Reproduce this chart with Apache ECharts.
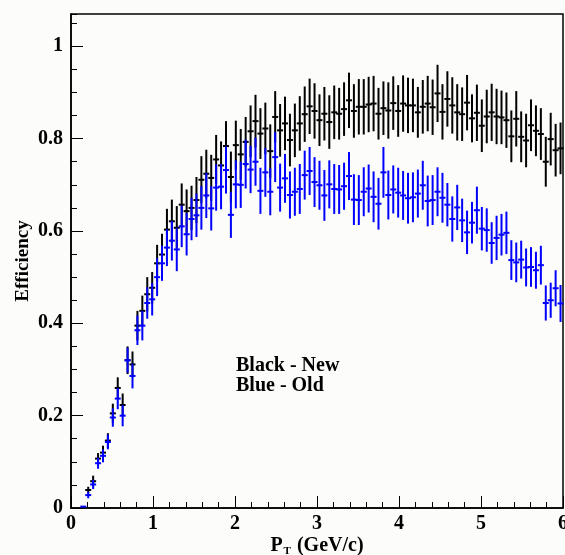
<!DOCTYPE html>
<html>
<head>
<meta charset="utf-8">
<script src="https://cdn.jsdelivr.net/npm/echarts@6/dist/echarts.min.js"></script>
<style>
html,body{margin:0;padding:0;background:#fcfcfa;}
#chart{width:565px;height:555px;}
</style>
</head>
<body>
<div id="chart"></div>
<script>
// Bin centres (GeV/c)
const pT = [0.03,0.09,0.15,0.21,0.27,0.33,0.39,0.45,0.51,0.57,0.63,0.69,0.75,0.81,0.87,0.93,0.99,1.05,1.11,1.17,
1.23,1.29,1.35,1.41,1.47,1.53,1.59,1.65,1.71,1.77,1.83,1.89,1.95,2.01,2.07,2.13,2.19,2.25,2.31,2.37,
2.43,2.49,2.55,2.61,2.67,2.73,2.79,2.85,2.91,2.97,3.03,3.09,3.15,3.21,3.27,3.33,3.39,3.45,3.51,3.57,
3.63,3.69,3.75,3.81,3.87,3.93,3.99,4.05,4.11,4.17,4.23,4.29,4.35,4.41,4.47,4.53,4.59,4.65,4.71,4.77,
4.83,4.89,4.95,5.01,5.07,5.13,5.19,5.25,5.31,5.37,5.43,5.49,5.55,5.61,5.67,5.73,5.79,5.85,5.91,5.97];

// Black - New
const newEff = [null,null,null,
0.039,0.058,0.107,0.120,0.146,0.205,0.260,0.223,0.320,0.311,0.395,0.427,0.463,0.477,0.530,0.549,0.603,0.621,0.607,0.657,0.643,0.650,
0.667,0.711,0.724,0.715,0.755,0.742,0.784,0.717,0.786,0.766,0.793,0.816,0.838,0.811,0.822,0.773,0.847,0.818,0.833,0.797,0.818,0.833,0.853,
0.870,0.860,0.840,0.854,0.836,0.857,0.854,0.864,0.883,0.860,0.869,0.869,0.874,0.876,0.854,0.866,0.861,0.877,0.860,0.876,0.872,0.872,0.857,0.869,0.876,0.868,0.898,
0.858,0.886,0.872,0.857,0.853,0.878,0.844,0.856,0.828,0.848,0.857,0.848,0.846,0.840,0.805,0.843,0.804,0.796,0.829,0.817,0.810,0.750,0.799,0.775,0.779];
const newErr = [0,0,0,
0.007,0.012,0.012,0.015,0.016,0.021,0.023,0.025,0.030,0.028,0.032,0.033,0.037,0.034,0.040,0.045,0.045,0.047,0.047,0.046,0.047,0.048,
0.050,0.051,0.052,0.050,0.053,0.052,0.054,0.055,0.053,0.055,0.054,0.056,0.057,0.055,0.056,0.058,0.056,0.057,0.058,0.057,0.058,0.059,0.060,
0.060,0.060,0.056,0.058,0.058,0.058,0.056,0.058,0.060,0.058,0.060,0.060,0.060,0.060,0.056,0.058,0.061,0.058,0.056,0.061,0.060,0.058,0.055,0.058,0.060,0.060,0.062,
0.060,0.060,0.061,0.061,0.058,0.060,0.052,0.061,0.057,0.058,0.062,0.060,0.058,0.060,0.056,0.060,0.055,0.058,0.056,0.055,0.056,0.054,0.057,0.057,0.056];

// Blue - Old
const oldEff = [null,null,0.003,
0.028,0.051,0.097,0.113,0.143,0.196,0.237,0.200,0.320,0.286,0.385,0.395,0.444,0.452,0.500,0.530,0.564,0.579,0.560,0.610,0.593,0.626,
0.634,0.650,0.677,0.649,0.694,0.696,0.732,0.635,0.701,0.700,0.745,0.733,0.750,0.687,0.727,0.685,0.760,0.694,0.714,0.678,0.685,0.691,0.721,
0.730,0.706,0.699,0.677,0.701,0.691,0.690,0.697,0.719,0.668,0.667,0.685,0.692,0.674,0.659,0.727,0.678,0.690,0.683,0.677,0.671,0.673,0.681,0.699,0.665,0.667,
0.685,0.672,0.657,0.626,0.651,0.623,0.597,0.618,0.645,0.605,0.602,0.574,0.585,0.592,0.596,0.537,0.532,0.538,0.521,0.522,0.515,0.526,0.444,0.450,0.476,0.443];
const oldErr = [0,0,0,
0.007,0.010,0.012,0.014,0.016,0.020,0.023,0.023,0.027,0.027,0.032,0.032,0.034,0.035,0.041,0.038,0.040,0.043,0.047,0.045,0.046,0.046,
0.047,0.047,0.049,0.048,0.050,0.049,0.051,0.050,0.052,0.050,0.053,0.051,0.052,0.050,0.053,0.051,0.054,0.052,0.053,0.051,0.052,0.054,0.053,
0.052,0.054,0.053,0.055,0.052,0.054,0.053,0.051,0.052,0.055,0.054,0.053,0.052,0.055,0.056,0.055,0.053,0.052,0.054,0.053,0.055,0.054,0.052,0.053,0.055,0.054,
0.053,0.054,0.047,0.049,0.049,0.047,0.047,0.045,0.051,0.047,0.047,0.045,0.048,0.045,0.046,0.043,0.043,0.041,0.041,0.043,0.040,0.042,0.038,0.038,0.039,0.040];

const legendLines = ['Black - New', 'Blue - Old'];

const FONT = '"Liberation Serif", "Times New Roman", serif';

function toData(vals, errs) {
  const out = [];
  for (let i = 0; i < pT.length; i++) {
    if (vals[i] === null) continue;
    out.push([pT[i], vals[i], errs[i]]);
  }
  return out;
}

function errRender(color) {
  return function (params, api) {
    const x = api.value(0), y = api.value(1), e = api.value(2);
    const c = api.coord([x, y]);
    const lo = api.coord([x, y - e]);
    const hi = api.coord([x, y + e]);
    return {
      type: 'group',
      children: [
        { type: 'line', shape: { x1: c[0], y1: hi[1], x2: c[0], y2: lo[1] }, style: { stroke: color, lineWidth: 2 } },
        { type: 'line', shape: { x1: c[0] - 3, y1: c[1], x2: c[0] + 3, y2: c[1] }, style: { stroke: color, lineWidth: 2 } }
      ]
    };
  };
}

const chart = echarts.init(document.getElementById('chart'), null, { renderer: 'canvas' });
chart.setOption({
  backgroundColor: '#fcfcfa',
  animation: false,
  grid: { left: 71, right: 2, top: 14, bottom: 47, show: true, borderColor: '#000', borderWidth: 1.5, containLabel: false, outerBoundsMode: 'none' },
  xAxis: {
    type: 'value', min: 0, max: 6, interval: 1,
    axisLine: { show: true, onZero: false, lineStyle: { color: '#000', width: 1.5 } },
    axisTick: { show: true, inside: true, length: 12, lineStyle: { color: '#000', width: 1 } },
    minorTick: { show: true, splitNumber: 5, length: 6, lineStyle: { color: '#000', width: 1 } },
    splitLine: { show: false },
    axisLabel: { color: '#000', fontFamily: FONT, fontWeight: 'bold', fontSize: 20, margin: 6 },
    name: '{p|P}{t|T}{p| (GeV/c)}',
    nameLocation: 'middle', nameGap: 26, nameMoveOverlap: false,
    nameTextStyle: {
      rich: {
        p: { fontFamily: FONT, fontWeight: 'bold', fontSize: 20, color: '#000' },
        t: { fontFamily: FONT, fontWeight: 'bold', fontSize: 11, color: '#000', padding: [12, 1, 0, 1] }
      }
    }
  },
  yAxis: [
    {
      type: 'value', min: 0, max: 1.07, interval: 0.2,
      axisLine: { show: true, onZero: false, lineStyle: { color: '#000', width: 1.5 } },
      axisTick: { show: true, inside: true, length: 12, lineStyle: { color: '#000', width: 1 } },
      splitLine: { show: false },
      axisLabel: { color: '#000', fontFamily: FONT, fontWeight: 'bold', fontSize: 20, margin: 8, showMaxLabel: false },
      name: 'Efficiency', nameLocation: 'middle', nameRotate: 90, nameGap: 38, nameMoveOverlap: false,
      nameTextStyle: { fontFamily: FONT, fontWeight: 'bold', fontSize: 19, color: '#000' }
    },
    {
      type: 'value', min: 0, max: 1.07, interval: 0.05, position: 'left',
      axisLine: { show: false },
      axisTick: { show: true, inside: true, length: 6, lineStyle: { color: '#000', width: 1 } },
      axisLabel: { show: false },
      splitLine: { show: false }
    }
  ],
  graphic: legendLines.map((t, i) => ({
    type: 'text', left: 236, top: 356 + i * 20,
    style: { text: t, font: 'bold 20px ' + FONT, fill: '#000' }
  })),
  series: [
    { type: 'custom', name: 'New', renderItem: errRender('#000000'), data: toData(newEff, newErr), encode: { x: 0, y: 1 }, yAxisIndex: 0, z: 2 },
    { type: 'custom', name: 'Old', renderItem: errRender('#0000ff'), data: toData(oldEff, oldErr), encode: { x: 0, y: 1 }, yAxisIndex: 0, z: 3 }
  ]
});
</script>
</body>
</html>
